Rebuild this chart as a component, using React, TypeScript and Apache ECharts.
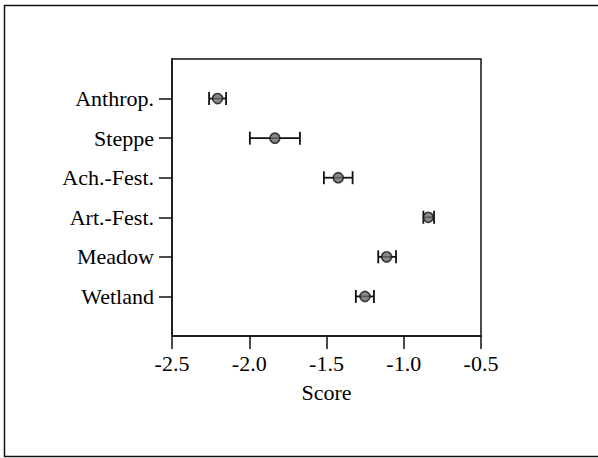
import React, { useEffect, useRef } from "react";
import * as echarts from "echarts";

const categories = ["Anthrop.", "Steppe", "Ach.-Fest.", "Art.-Fest.", "Meadow", "Wetland"];
const scores = [-2.205, -1.834, -1.424, -0.841, -1.111, -1.251];
const errLow = [-2.26, -1.996, -1.517, -0.873, -1.165, -1.31];
const errHigh = [-2.15, -1.672, -1.331, -0.804, -1.05, -1.193];
const xTicks = [-2.5, -2.0, -1.5, -1.0, -0.5];
const catPositions = [1, 2, 3, 4, 5, 6];

const FONT = "'Liberation Serif', 'Times New Roman', serif";

export default function App() {
  const ref = useRef<HTMLDivElement>(null);
  useEffect(() => {
    if (!ref.current) return;
    const chart = echarts.init(ref.current, null, { renderer: "svg" });
    const pointData = scores.map((v, i) => [v, catPositions[i]]);
    const errData = categories.map((_, i) => [catPositions[i], errLow[i], errHigh[i]]);
    chart.setOption({
      animation: false,
      backgroundColor: "#fff",
      graphic: [
        {
          type: "rect",
          shape: { x: 4.5, y: 5.5, width: 640, height: 451 },
          style: { fill: "none", stroke: "#111", lineWidth: 1.5 },
          silent: true,
        },
      ],
      grid: {
        left: 172,
        right: 117,
        top: 59,
        bottom: 122,
        show: true,
        borderColor: "#111",
        borderWidth: 1.5,
        backgroundColor: "transparent",
      },
      xAxis: {
        type: "value",
        min: -2.5,
        max: -0.5,
        interval: 0.5,
        name: "Score",
        nameLocation: "middle",
        nameGap: 45,
        nameTextStyle: { fontFamily: FONT, fontSize: 22, color: "#000" },
        axisLine: { show: true, onZero: false, lineStyle: { color: "#111", width: 1.5 } },
        axisTick: { show: true, inside: false, length: 13, lineStyle: { color: "#111", width: 1.5 } },
        axisLabel: {
          margin: 16,
          fontFamily: FONT,
          fontSize: 22,
          color: "#000",
          formatter: (v: number) => {
            const t = xTicks.find((x) => Math.abs(x - v) < 1e-6);
            return t === undefined ? "" : t.toFixed(1);
          },
        },
        splitLine: { show: false },
      },
      yAxis: {
        type: "value",
        min: 0,
        max: 7,
        inverse: true,
        axisLine: { show: true, onZero: false, lineStyle: { color: "#111", width: 1.5 } },
        axisTick: {
          show: true,
          length: 13,
          customValues: catPositions,
          lineStyle: { color: "#111", width: 1.5 },
        },
        axisLabel: {
          margin: 18,
          fontFamily: FONT,
          fontSize: 22,
          color: "#000",
          customValues: catPositions,
          formatter: (v: number) => {
            const idx = catPositions.indexOf(Math.round(v));
            return idx >= 0 ? categories[idx] : "";
          },
        },
        splitLine: { show: false },
      },
      series: [
        {
          type: "custom",
          data: errData,
          encode: { x: [1, 2], y: 0 },
          renderItem: (params: any, api: any) => {
            const y = api.value(0);
            const lo = api.coord([api.value(1), y]);
            const hi = api.coord([api.value(2), y]);
            const cap = 6.5;
            const style = { stroke: "#111", lineWidth: 1.8 };
            return {
              type: "group",
              children: [
                { type: "line", shape: { x1: lo[0], y1: lo[1], x2: hi[0], y2: hi[1] }, style },
                { type: "line", shape: { x1: lo[0], y1: lo[1] - cap, x2: lo[0], y2: lo[1] + cap }, style },
                { type: "line", shape: { x1: hi[0], y1: hi[1] - cap, x2: hi[0], y2: hi[1] + cap }, style },
              ],
            };
          },
          z: 2,
        },
        {
          type: "scatter",
          data: pointData,
          symbol: "circle",
          symbolSize: 10,
          itemStyle: { color: "#6e6e6e", borderColor: "#151515", borderWidth: 1.6 },
          z: 3,
        },
      ],
    });
    return () => chart.dispose();
  }, []);
  return (
    <div
      ref={ref}
      style={{ position: "absolute", left: 0, top: 0, width: 598, height: 458 }}
    />
  );
}
